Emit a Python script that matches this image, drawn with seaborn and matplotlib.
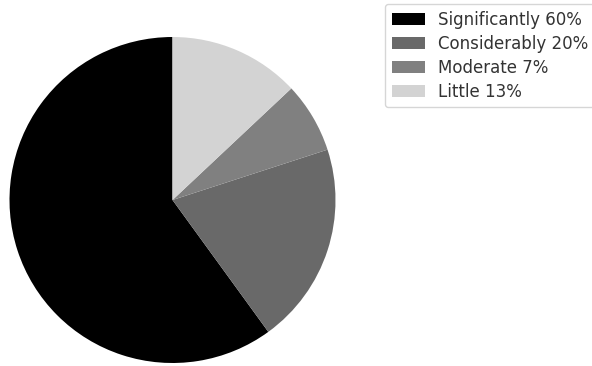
import matplotlib
matplotlib.use("Agg")
import matplotlib.pyplot as plt
import seaborn as sns

sns.set_theme(style="white")
plt.rcParams['font.family'] = ['DejaVu Sans']

categories = ["Significantly", "Considerably", "Moderate", "Little"]
shares = [60, 20, 7, 13]
colors = ["#000000", "#696969", "#808080", "#d3d3d3"]
labels = [f"{c} {v}%" for c, v in zip(categories, shares)]

fig = plt.figure(figsize=(5.92, 3.66), dpi=100)
ax = fig.add_axes([9 / 592, 3 / 366, 327 / 592, 326 / 366])
wedges, _ = ax.pie(shares, colors=colors, startangle=90, counterclock=True,
                   wedgeprops=dict(linewidth=0))
ax.set_xlim(-1, 1)
ax.set_ylim(-1, 1)
ax.set_aspect("equal")
ax.axis("off")

leg = fig.legend(wedges, labels, loc="upper left",
                 bbox_to_anchor=(385 / 592, 1 - 4 / 366),
                 fontsize=12, frameon=True, handlelength=2.0,
                 labelspacing=0.36, borderaxespad=0)
for t in leg.get_texts():
    t.set_color("#333333")
leg.get_frame().set_edgecolor("#cccccc")

fig.savefig("out.png", dpi=100)
